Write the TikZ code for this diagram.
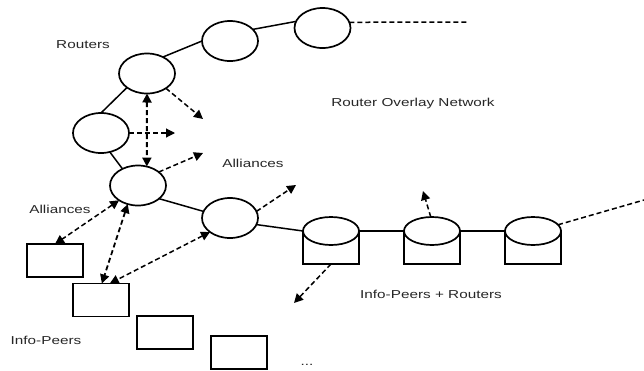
\documentclass[tikz,border=0pt]{standalone}
\usepackage{fontspec}
\setmainfont{Liberation Sans}
\usetikzlibrary{shapes.geometric,arrows.meta}
\tikzset{
  router/.style={ellipse,draw,line width=1.7pt,inner sep=0pt,outer sep=0pt,minimum width=56pt,minimum height=40pt},
  peer/.style={rectangle,draw,line width=1.7pt,inner sep=0pt,outer sep=0pt,minimum width=56pt,minimum height=33pt},
  cylbody/.style={rectangle,draw,line width=1.7pt,inner sep=0pt,outer sep=0pt,minimum width=56pt,minimum height=33pt},
  cyltop/.style={ellipse,draw,fill=white,line width=1.7pt,inner sep=0pt,outer sep=0pt,minimum width=56pt,minimum height=28pt},
  link/.style={line width=1.5pt},
  tip/.style={-{Triangle[length=9pt,width=9pt]}},
  dtip/.style={{Triangle[length=9pt,width=9pt]}-{Triangle[length=9pt,width=9pt]}},
  dline/.style={line width=1.5pt,dash pattern=on 5pt off 3pt},
  lab/.style={font=\fontsize{11.5pt}{13pt}\selectfont,text=black!85,inner sep=0pt,transform shape,xscale=1.33}
}
\begin{document}
\begin{tikzpicture}[x=1pt,y=-1pt]
\useasboundingbox (0,0) rectangle (644,370);
\node[router] (r1) at (147,73.5) {};
\node[router] (r2) at (230,41) {};
\node[router] (r3) at (322.5,28) {};
\node[router] (rl) at (101,133) {};
\node[router] (a) at (138,185.5) {};
\node[router] (b) at (230,218) {};
\node[peer] (s1) at (55,260.5) {};
\node[peer] (s2) at (101,300) {};
\node[peer] (s3) at (165,332.5) {};
\node[peer] (s4) at (239,352.5) {};
\node[cylbody] (c1) at (331,247.5) {};
\node[cyltop] (c1t) at (331,231) {};
\node[cylbody] (c2) at (432,247.5) {};
\node[cyltop] (c2t) at (432,231) {};
\node[cylbody] (c3) at (533,247.5) {};
\node[cyltop] (c3t) at (533,231) {};
\coordinate (e1) at (468,22);
\coordinate (e2) at (203,119);
\coordinate (e3) at (175,133);
\coordinate (e4) at (203,153);
\coordinate (e5) at (296,185);
\coordinate (e6) at (294,303);
\coordinate (e7) at (423,191);
\coordinate (e8) at (644,200);
\draw[link] (r1.46) -- (r2.180);
\draw[link] (r2.27) -- (r3.166);
\draw[link] (r1.215) -- (rl.90);
\draw[link] (rl.-65) -- (a.133);
\draw[link] (a.-32) -- (b.166);
\draw[link] (b.-14) -- (c1t.west);
\draw[link,line width=1.2pt] (c1t.east) -- (c2t.west);
\draw[link,line width=1.2pt] (c2t.east) -- (c3t.west);
\draw[dline] (r3.12) -- (e1);
\draw[dline,tip] (r1.-38) -- (e2);
\draw[dline,tip,line width=1.1pt] (rl.east) -- (e3);
\draw[dline,dtip,line width=2pt] (r1.south) -- (a.65);
\draw[dline,tip] (a.33) -- (e4);
\draw[dline,tip] (b.14) -- (e5);
\draw[dline,dtip] (a.218) -- (s1.north);
\draw[dline,dtip,line width=1.8pt] (a.241) -- (s2.87);
\draw[dline,dtip] (b.215) -- (s2.62);
\draw[dline,tip] (c1.south) -- (e6);
\draw[dline,tip] (c2t.95) -- (e7);
\draw[dline] (c3t.14) -- (e8);
\node[lab] (l1) at (83,45) {Routers};
\node[lab] (l2) at (253,163) {Alliances};
\node[lab] (l3) at (60,209) {Alliances};
\node[lab] (l4) at (46,340) {Info-Peers};
\node[lab] (l5) at (413,104) {Router Overlay Network};
\node[lab] (l6) at (431,294) {Info-Peers + Routers};
\node[lab] (l7) at (307,365) {...};
\end{tikzpicture}
\end{document}
